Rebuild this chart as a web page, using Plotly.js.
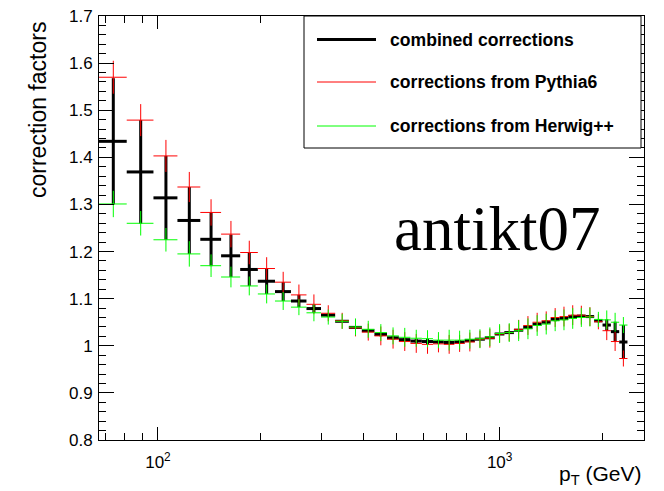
<!DOCTYPE html>
<html>
<head>
<meta charset="utf-8">
<script src="https://cdn.plot.ly/plotly-3.0.1.min.js"></script>
<style>
  html, body { margin: 0; padding: 0; background: #ffffff; }
  #chart { width: 664px; height: 491px; }
</style>
</head>
<body>
<div id="chart"></div>
<script>
// p_T bin edges (GeV)
const binEdges = [67, 81, 97, 114, 133, 153, 174, 196, 220, 245, 272, 300, 330, 362, 395, 430,
  468, 507, 548, 592, 638, 686, 737, 790, 846, 905, 967, 1032, 1101, 1172, 1248, 1327,
  1410, 1497, 1588, 1684, 1784, 1890, 2000, 2116, 2238, 2366];

// corrections from Pythia6 (red)
const pythiaVal = [1.570, 1.479, 1.403, 1.337, 1.283, 1.237, 1.198, 1.164, 1.135, 1.108,
  1.088, 1.069, 1.053, 1.038, 1.029, 1.021, 1.014, 1.009, 1.005, 1.003,
  1.004, 1.003, 1.005, 1.008, 1.014, 1.016, 1.025, 1.028, 1.035, 1.043,
  1.050, 1.053, 1.060, 1.062, 1.065, 1.065, 1.062, 1.051, 1.032, 1.009, 0.973];
const pythiaErr = [0.035, 0.034, 0.034, 0.032, 0.028, 0.028, 0.025, 0.024, 0.022, 0.022,
  0.021, 0.017, 0.017, 0.018, 0.018, 0.020, 0.020, 0.020, 0.020, 0.020,
  0.018, 0.020, 0.018, 0.020, 0.018, 0.020, 0.018, 0.018, 0.020, 0.020,
  0.020, 0.020, 0.020, 0.021, 0.021, 0.020, 0.020, 0.016, 0.020, 0.020, 0.017];

// corrections from Herwig++ (green)
const herwigVal = [1.301, 1.260, 1.225, 1.195, 1.170, 1.146, 1.127, 1.110, 1.095, 1.082,
  1.070, 1.061, 1.052, 1.040, 1.035, 1.028, 1.021, 1.018, 1.016, 1.015,
  1.012, 1.012, 1.012, 1.014, 1.015, 1.019, 1.026, 1.028, 1.032, 1.036,
  1.043, 1.046, 1.053, 1.055, 1.058, 1.060, 1.061, 1.056, 1.055, 1.050, 1.044];
const herwigErr = [0.028, 0.026, 0.025, 0.027, 0.024, 0.022, 0.020, 0.020, 0.019, 0.017,
  0.018, 0.016, 0.016, 0.018, 0.018, 0.018, 0.018, 0.020, 0.018, 0.018,
  0.017, 0.022, 0.020, 0.020, 0.020, 0.020, 0.020, 0.020, 0.022, 0.022,
  0.022, 0.022, 0.022, 0.022, 0.022, 0.020, 0.020, 0.016, 0.020, 0.020, 0.017];

// combined corrections (black)
const combinedVal = [1.434, 1.369, 1.314, 1.266, 1.226, 1.191, 1.162, 1.137, 1.115, 1.095,
  1.079, 1.065, 1.052, 1.039, 1.032, 1.024, 1.017, 1.013, 1.010, 1.009,
  1.008, 1.007, 1.008, 1.011, 1.014, 1.017, 1.025, 1.028, 1.033, 1.039,
  1.046, 1.050, 1.056, 1.058, 1.062, 1.063, 1.062, 1.053, 1.044, 1.030, 1.008];
const combinedErr = [0.134, 0.110, 0.089, 0.071, 0.057, 0.045, 0.035, 0.027, 0.020, 0.013,
  0.009, 0.004, 0.001, 0.001, 0.003, 0.004, 0.004, 0.004, 0.005, 0.006,
  0.004, 0.004, 0.004, 0.003, 0.001, 0.002, 0.001, 0.001, 0.002, 0.003,
  0.004, 0.004, 0.004, 0.004, 0.004, 0.003, 0.001, 0.003, 0.012, 0.021, 0.036];

const xTickVals = [100, 1000];
const xTickText = ['10<sup>2</sup>', '10<sup>3</sup>'];
const xMinorTicks = [70, 80, 90, 200, 300, 400, 500, 600, 700, 800, 900, 2000];

const legendLabels = ['combined corrections', 'corrections from Pythia6', 'corrections from Herwig++'];

// derived bin geometry
const lo = binEdges.slice(0, -1);
const hi = binEdges.slice(1);
const centers = lo.map((l, i) => (l + hi[i]) / 2);
const errPlus = centers.map((c, i) => hi[i] - c);
const errMinus = centers.map((c, i) => c - lo[i]);

function series(vals, errs, color, thick, name) {
  return {
    type: 'scatter', mode: 'markers', name: name, showlegend: false,
    x: centers, y: vals,
    marker: { size: 1, opacity: 0, color: color },
    error_x: { type: 'data', symmetric: false, array: errPlus, arrayminus: errMinus,
      color: color, thickness: thick, width: 0 },
    error_y: { type: 'data', array: errs, color: color, thickness: thick, width: 0 },
    hoverinfo: 'x+y'
  };
}

const traces = [
  series(combinedVal, combinedErr, '#000000', 3, legendLabels[0]),
  series(pythiaVal, pythiaErr, '#ff0000', 1, legendLabels[1]),
  series(herwigVal, herwigErr, '#00ff00', 1, legendLabels[2])
];

// plot area in pixels: x 99..644, y 16..440
const W = 664, H = 491, L = 99, R = 20, T = 16, B = 51;
const pw = W - L - R, ph = H - T - B;
const px = v => (v - L) / pw;
const py = v => (H - B - v) / ph;

const font = 'Liberation Sans, Arial, Helvetica, sans-serif';

const legendRows = [39.5, 82, 126];
const legendColors = ['#000000', '#ff0000', '#00ff00'];
const legendWidths = [3, 1, 1];

const shapes = [
  { type: 'rect', xref: 'paper', yref: 'paper', x0: px(304), x1: px(641), y0: py(148), y1: py(16),
    line: { color: '#000000', width: 1 }, fillcolor: '#ffffff', layer: 'above' }
];
const annotations = [];
legendRows.forEach((yy, i) => {
  shapes.push({ type: 'line', xref: 'paper', yref: 'paper', x0: px(317), x1: px(376),
    y0: py(yy), y1: py(yy), line: { color: legendColors[i], width: legendWidths[i] }, layer: 'above' });
  annotations.push({ xref: 'paper', yref: 'paper', x: px(388), y: py(yy), xanchor: 'left', yanchor: 'middle',
    text: '<b>' + legendLabels[i] + '</b>', showarrow: false,
    font: { family: font, size: 17.6, color: '#000000' } });
});

annotations.push({ xref: 'paper', yref: 'paper', x: px(392), y: py(229), xanchor: 'left', yanchor: 'middle',
  text: 'antikt07', showarrow: false,
  font: { family: 'Liberation Serif, Times New Roman, serif', size: 63, color: '#000000' } });

annotations.push({ xref: 'paper', yref: 'paper', x: px(38), y: py(110), xanchor: 'center', yanchor: 'middle',
  text: 'correction factors', textangle: -90, showarrow: false,
  font: { family: font, size: 23, color: '#000000' } });

annotations.push({ xref: 'paper', yref: 'paper', x: 1.0, y: py(475), xanchor: 'right', yanchor: 'middle',
  text: 'p<sub>T</sub> (GeV)', showarrow: false,
  font: { family: font, size: 21, color: '#000000' } });

const layout = {
  width: W, height: H,
  margin: { l: L, r: R, t: T, b: B, pad: 0 },
  paper_bgcolor: '#ffffff', plot_bgcolor: '#ffffff',
  showlegend: false,
  font: { family: font, size: 17, color: '#000000' },
  xaxis: {
    type: 'log', range: [Math.log10(67.2), Math.log10(2645)],
    showgrid: false, zeroline: false,
    showline: true, linecolor: '#000000', linewidth: 1, mirror: 'allticks',
    ticks: 'inside', ticklen: 13, tickwidth: 1, tickcolor: '#000000',
    tickmode: 'array', tickvals: xTickVals, ticktext: xTickText,
    tickfont: { family: font, size: 17 },
    ticklabelstandoff: 7,
    minor: { tickmode: 'array', tickvals: xMinorTicks, ticks: 'inside', ticklen: 7, tickcolor: '#000000', showgrid: false }
  },
  yaxis: {
    range: [0.8, 1.7],
    showgrid: false, zeroline: false,
    showline: true, linecolor: '#000000', linewidth: 1, mirror: 'allticks',
    ticks: 'inside', ticklen: 15, tickwidth: 1, tickcolor: '#000000',
    tick0: 0.8, dtick: 0.1,
    tickfont: { family: font, size: 17 },
    ticklabelstandoff: 2,
    minor: { dtick: 0.02, ticks: 'inside', ticklen: 7, tickcolor: '#000000', showgrid: false }
  },
  shapes: shapes,
  annotations: annotations
};

Plotly.newPlot('chart', traces, layout, { displayModeBar: false, staticPlot: true });
</script>
</body>
</html>
